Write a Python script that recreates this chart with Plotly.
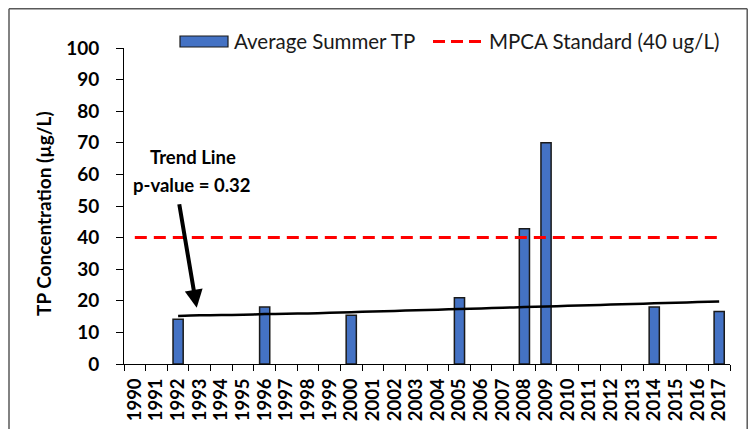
import plotly.graph_objects as go

years = [str(y) for y in range(1990, 2018)]
bar_years = ["1992", "1996", "2000", "2005", "2008", "2009", "2014", "2017"]
bar_values = [14.2, 18.0, 15.4, 21.0, 42.8, 70.0, 18.0, 16.6]
trend_years = [str(y) for y in range(1992, 2018)]
trend_values = [15.2, 15.4, 15.5, 15.6, 15.8, 15.9, 16.0, 16.2, 16.4, 16.6, 16.8, 17.0,
                17.2, 17.4, 17.6, 17.8, 18.0, 18.2, 18.4, 18.6, 18.8, 19.0, 19.2, 19.4,
                19.6, 19.8]
standard_value = 40
std_values = [standard_value] * len(years)
y_ticks = list(range(0, 101, 10))

# The page body keeps its default 8px margin, so the figure is sized to fit the
# 756x437 window without scrollbars and all positions are given in window pixels.
OFF = 8
W, H = 756 - 2 * OFF, 437 - 2 * OFF
L, T = 124 - OFF, 48 - OFF
pw, ph = 606, 316
R, B = W - L - pw, H - T - ph


def px(x):
    return (x - OFF - L) / pw


def py(y):
    return (H - B - (y - OFF)) / ph


FONT = "Lato"

fig = go.Figure()
fig.add_trace(go.Bar(x=bar_years, y=bar_values, width=0.47,
                     marker=dict(color="#4472C4", line=dict(color="#1a1a1a", width=1.5)),
                     name="Average Summer TP", showlegend=False))
fig.add_trace(go.Scatter(x=years, y=std_values, mode="lines",
                         line=dict(color="#FF0000", width=3, dash="12px,7px"),
                         name="MPCA Standard (40 ug/L)", showlegend=False))
fig.add_trace(go.Scatter(x=trend_years, y=trend_values, mode="lines",
                         line=dict(color="black", width=2.5, shape="spline"),
                         name="Trend Line", showlegend=False))

border = dict(color="#595959", width=1.5)
shapes = [
    dict(type="line", xref="paper", yref="paper", x0=px(9), x1=px(9), y0=py(437), y1=py(8.8),
         line=border, layer="below"),
    dict(type="line", xref="paper", yref="paper", x0=px(9), x1=px(747.2), y0=py(8.8), y1=py(8.8),
         line=border, layer="below"),
    dict(type="line", xref="paper", yref="paper", x0=px(747.2), x1=px(747.2), y0=py(437), y1=py(8.8),
         line=border, layer="below"),
    dict(type="rect", xref="paper", yref="paper", x0=px(180), x1=px(228), y0=py(47), y1=py(36),
         line=dict(color="#1a1a1a", width=1.2), fillcolor="#4472C4"),
    dict(type="line", xref="paper", yref="paper", x0=px(433), x1=px(483), y0=py(41.5), y1=py(41.5),
         line=dict(color="#FF0000", width=3, dash="12px,6px")),
]

annotations = [
    dict(xref="paper", yref="paper", x=px(232), y=py(41.5), text="Average Summer TP",
         showarrow=False, xanchor="left", yanchor="middle",
         font=dict(family=FONT, size=20.5, color="#1a1a1a")),
    dict(xref="paper", yref="paper", x=px(487), y=py(41.5), text="MPCA Standard (40 ug/L)",
         showarrow=False, xanchor="left", yanchor="middle",
         font=dict(family=FONT, size=20.5, color="#1a1a1a")),
    dict(xref="paper", yref="paper", x=px(193), y=py(157), text="<b>Trend Line</b>",
         showarrow=False, xanchor="center", yanchor="middle",
         font=dict(family=FONT, size=18.5, color="black")),
    dict(xref="paper", yref="paper", x=px(192), y=py(185), text="<b>p-value = 0.32</b>",
         showarrow=False, xanchor="center", yanchor="middle",
         font=dict(family=FONT, size=18.5, color="black")),
    dict(xref="x", yref="y", x=2.86, y=17.8, ax=-17.7, ay=-105, axref="pixel", ayref="pixel",
         text="", showarrow=True, arrowhead=2, arrowsize=0.9, arrowwidth=4, arrowcolor="black"),
    # y-axis title
    dict(xref="paper", yref="paper", x=px(43), y=py(214), text="<b>TP Concentration (µg/L)</b>",
         showarrow=False, textangle=-90, xanchor="center", yanchor="middle",
         font=dict(family=FONT, size=19, color="black")),
]

fig.update_layout(
    width=W, height=H,
    margin=dict(l=L, r=R, t=T, b=B, autoexpand=False),
    paper_bgcolor="white", plot_bgcolor="white",
    shapes=shapes, annotations=annotations,
    showlegend=False,
    font=dict(family=FONT, color="black"),
)
fig.update_xaxes(type="category", categoryorder="array", categoryarray=years,
                 tickmode="array", tickvals=years, ticktext=["<b>%s</b>" % y for y in years],
                 range=[-0.5, 27.5], tickson="boundaries", ticks="outside", ticklen=6,
                 tickcolor="black", tickwidth=1, showline=True, linecolor="black", linewidth=1,
                 tickangle=-90, showgrid=False, zeroline=False, automargin=False,
                 ticklabelstandoff=6,
                 tickfont=dict(family=FONT, size=18.5, color="black"))
fig.update_yaxes(range=[0, 100], tickmode="array", tickvals=y_ticks,
                 ticktext=["<b>%d</b>" % v for v in y_ticks],
                 ticks="outside", ticklen=7, tickcolor="black",
                 tickwidth=1, showline=True, linecolor="black", linewidth=1, showgrid=False,
                 zeroline=False, automargin=False, ticklabelstandoff=13,
                 tickfont=dict(family=FONT, size=19, color="black"))

fig.write_html("out.html")
